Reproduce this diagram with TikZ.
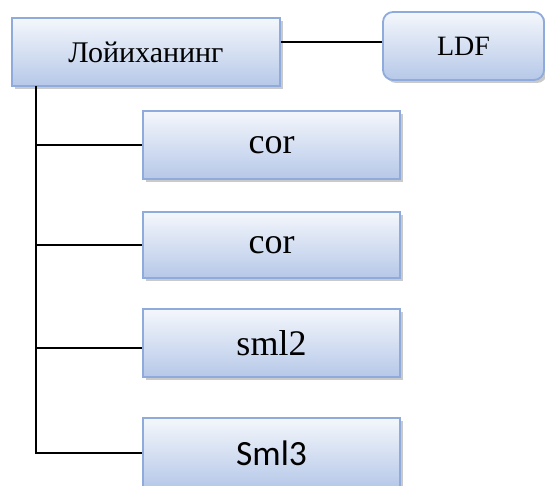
\documentclass[tikz,border=0pt]{standalone}
\usepackage{fontspec}
\setmainfont{Liberation Serif}
\newfontfamily\calib{Carlito}
\usetikzlibrary{shadows}
\definecolor{boxtop}{HTML}{F4F7FC}
\definecolor{boxbot}{HTML}{B6C8E8}
\definecolor{boxline}{HTML}{8EABDC}
\tikzset{
  pbox/.style={draw=boxline, line width=1.8pt, top color=boxtop, bottom color=boxbot,
    drop shadow={shadow xshift=3pt, shadow yshift=-3pt, fill=black!35, opacity=0.6}},
  conn/.style={draw=black, line width=1.4pt}
}
\begin{document}
\begin{tikzpicture}[x=1pt,y=-1pt]
\useasboundingbox (0,0) rectangle (545,486);
\clip (0,0) rectangle (545,486);
\node[pbox, minimum width=268pt, minimum height=68pt, font=\fontsize{30}{34}\selectfont] (root) at (146,52) {Лойиханинг};
\node[pbox, rounded corners=10pt, minimum width=161pt, minimum height=68pt, font=\fontsize{28}{32}\selectfont] (ldf) at (463.5,46) {LDF};
\node[pbox, minimum width=257pt, minimum height=68pt, font=\fontsize{36}{40}\selectfont] (c1) at (271.5,145) {cor};
\node[pbox, minimum width=257pt, minimum height=66pt, font=\fontsize{36}{40}\selectfont] (c2) at (271.5,245) {cor};
\node[pbox, minimum width=257pt, minimum height=68pt, font=\fontsize{36}{40}\selectfont] (c3) at (271.5,343) {sml2};
\node[pbox, minimum width=257pt, minimum height=70pt, font=\calib\fontsize{35.5}{40}\selectfont] (c4) at (271.5,453) {Sml3};
\coordinate (top) at (36,86);
\draw[conn] (ldf.west |- 0,42) -- (root.east |- 0,42);
\draw[conn] (top) |- (c4.west);
\draw[conn] (c1.west) -- (c1.west -| top);
\draw[conn] (c2.west) -- (c2.west -| top);
\draw[conn] (c3.west |- 0,348) -- (top |- 0,348);
\end{tikzpicture}
\end{document}
